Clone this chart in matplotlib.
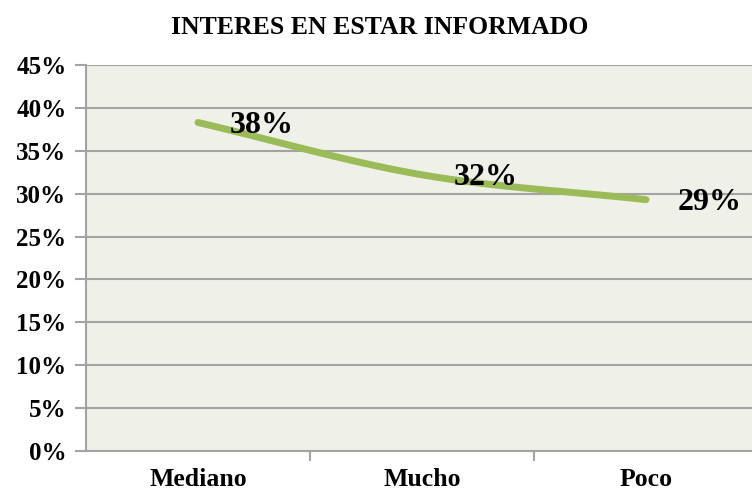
import numpy as np
import matplotlib
matplotlib.use("Agg")
import matplotlib.pyplot as plt
from matplotlib.ticker import FixedLocator, FuncFormatter

categories = ["Mediano", "Mucho", "Poco"]
values = [0.383, 0.322, 0.293]
labels = ["38%", "32%", "29%"]
yticks = [0, 0.05, 0.10, 0.15, 0.20, 0.25, 0.30, 0.35, 0.40, 0.45]

plt.rcParams["font.family"] = ["Liberation Serif", "DejaVu Serif"]
plt.rcParams["font.weight"] = "bold"

grid_color = "#a3a3a3"
line_color = "#9bbb59"


def smooth(xs, ys, n=60):
    # Catmull-Rom style smoothing like Excel's smoothed line
    xs = np.asarray(xs, float)
    ys = np.asarray(ys, float)
    px = np.concatenate([[2 * xs[0] - xs[1]], xs, [2 * xs[-1] - xs[-2]]])
    py = np.concatenate([[2 * ys[0] - ys[1]], ys, [2 * ys[-1] - ys[-2]]])
    ox, oy = [], []
    for i in range(1, len(px) - 2):
        t = np.linspace(0, 1, n)
        for p, out in ((px, ox), (py, oy)):
            p0, p1, p2, p3 = p[i - 1], p[i], p[i + 1], p[i + 2]
            out.extend(0.5 * (2 * p1 + (-p0 + p2) * t
                              + (2 * p0 - 5 * p1 + 4 * p2 - p3) * t ** 2
                              + (-p0 + 3 * p1 - 3 * p2 + p3) * t ** 3))
    return np.array(ox), np.array(oy)


fig = plt.figure(figsize=(7.52, 4.91), dpi=100)
ax = fig.add_axes([86 / 752, 40 / 491, 672 / 752, 386 / 491])
ax.set_facecolor("#eff1e9")

x = np.arange(len(categories))
sx, sy = smooth(x, values)
ax.plot(sx, sy, color=line_color, lw=5, solid_capstyle="round", zorder=3)

for xi, v, lab in zip(x, values, labels):
    ax.annotate(lab, (xi, v), xytext=(23, -2), textcoords="offset points",
                ha="left", va="center", fontsize=23, fontweight="bold", zorder=4)

ax.set_xlim(-0.5, 2.5)
ax.set_ylim(0, 0.45)
ax.set_yticks(yticks)
ax.yaxis.set_major_formatter(FuncFormatter(lambda v, p: f"{v * 100:.0f}%"))
ax.grid(axis="y", color=grid_color, lw=1.5, zorder=1)

ax.xaxis.set_major_locator(FixedLocator(x))
ax.set_xticklabels(categories)
ax.xaxis.set_minor_locator(FixedLocator([0.5, 1.5, 2.5]))
ax.tick_params(axis="x", which="major", length=0, pad=12, labelsize=18.5)
ax.tick_params(axis="x", which="minor", length=7, width=1.5, color=grid_color)
ax.tick_params(axis="y", length=8, width=1.5, color=grid_color, labelsize=18, pad=6)

for side in ("top", "right"):
    ax.spines[side].set_visible(False)
for side in ("left", "bottom"):
    ax.spines[side].set_color(grid_color)
    ax.spines[side].set_linewidth(1.5)

fig.text(380 / 752, 1 - 27 / 491, "INTERES EN ESTAR INFORMADO", ha="center",
         va="center", fontsize=18.5, fontweight="bold")

fig.savefig("out.png", dpi=100)
